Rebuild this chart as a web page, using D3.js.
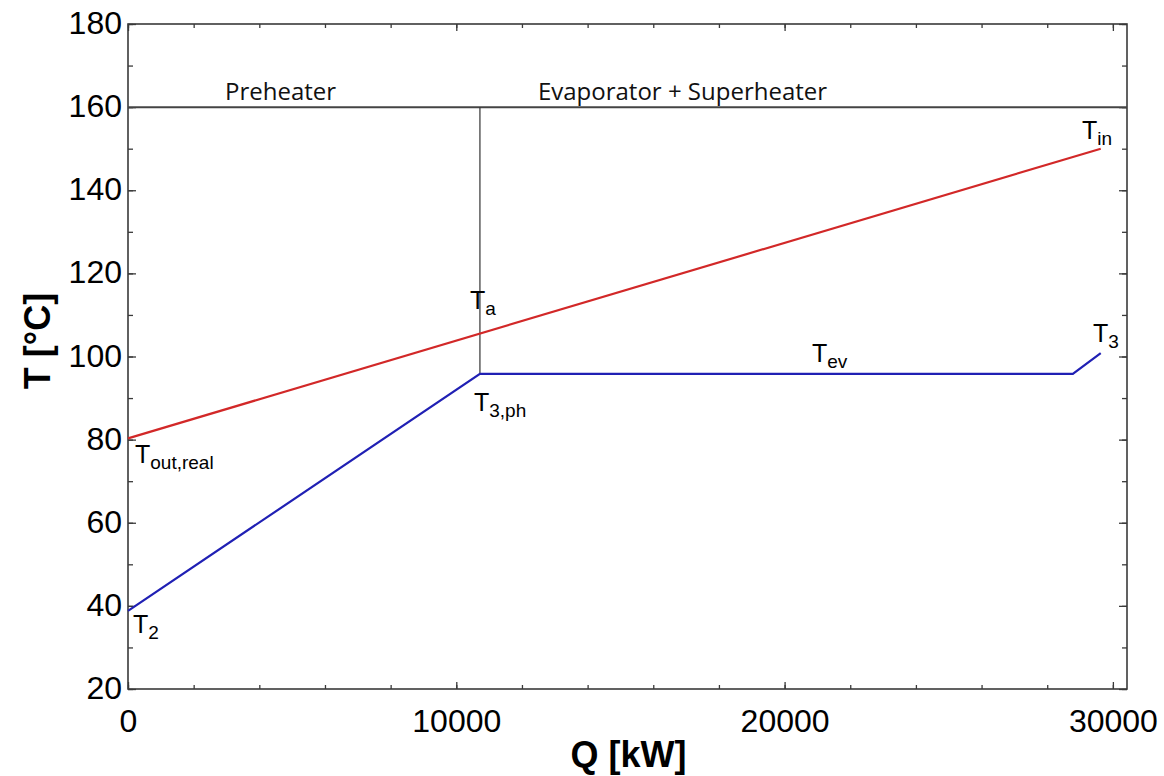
<!DOCTYPE html>
<html>
<head>
<meta charset="utf-8">
<script src="https://cdn.jsdelivr.net/npm/d3@7/dist/d3.min.js"></script>
<style>
  html, body { margin: 0; padding: 0; background: #fff; }
  svg { display: block; }
</style>
</head>
<body>
<svg id="chart" width="1164" height="776"></svg>
<script>
// ---- data ----
const qDomain = [0, 30430];
const tDomain = [20, 180];
const qMajorTicks = [0, 10000, 20000, 30000];
const qMinorTicks = d3.range(0, 30001, 2000);
const tMajorTicks = [20, 40, 60, 80, 100, 120, 140, 160, 180];
const tMinorTicks = d3.range(20, 181, 10);

// hot stream (red)
const hotQ = [0, 29630];
const hotT = [80.3, 150.0];
// working fluid (blue)
const coldQ = [0, 10720, 28780, 29630];
const coldT = [38.8, 95.8, 95.8, 100.8];

// divider lines
const limitT = 160;
const pinchQ = 10720;
const pinchT = 95.8;

// region labels
const regionNames = ["Preheater", "Evaporator + Superheater"];
const regionQ = [2954, 12487];
const regionT = [161.8, 161.8];

// point labels: main text, subscript, anchor (q, T)
const pointMain = ["T", "T", "T", "T", "T", "T", "T"];
const pointSub = ["in", "a", "3,ph", "ev", "3", "out,real", "2"];
const pointQ = [29056, 10416, 10538, 20833, 29391, 213, 152];
const pointT = [152.3, 111.4, 86.9, 98.7, 103.6, 74.4, 33.5];

const xTitle = "Q [kW]";
const yTitle = "T [°C]";

// ---- layout ----
const svg = d3.select("#chart");
const mLeft = 128, mRight = 1127, mTop = 24, mBottom = 689;
const x = d3.scaleLinear().domain(qDomain).range([mLeft, mRight]);
const y = d3.scaleLinear().domain(tDomain).range([mBottom, mTop]);
const axisColor = "#3a3a3a";
const tickFont = "'Liberation Sans', Arial, sans-serif";

function styleAxis(g) {
  g.select(".domain").remove();
  g.selectAll(".tick line").attr("stroke", axisColor).attr("stroke-width", 1.3);
  g.selectAll(".tick text").attr("fill", "#000").attr("font-family", tickFont).attr("font-size", 32);
}

// minor ticks
svg.append("g").attr("transform", `translate(0,${mBottom})`)
  .call(d3.axisBottom(x).tickValues(qMinorTicks).tickSize(-4).tickFormat(""))
  .call(styleAxis);
svg.append("g").attr("transform", `translate(0,${mTop})`)
  .call(d3.axisTop(x).tickValues(qMinorTicks).tickSize(-4).tickFormat(""))
  .call(styleAxis);
svg.append("g").attr("transform", `translate(${mLeft},0)`)
  .call(d3.axisLeft(y).tickValues(tMinorTicks).tickSize(-5).tickFormat(""))
  .call(styleAxis);
svg.append("g").attr("transform", `translate(${mRight},0)`)
  .call(d3.axisRight(y).tickValues(tMinorTicks).tickSize(-5).tickFormat(""))
  .call(styleAxis);

// major ticks with labels
svg.append("g").attr("transform", `translate(0,${mBottom})`)
  .call(d3.axisBottom(x).tickValues(qMajorTicks).tickSizeInner(-7).tickSizeOuter(0).tickPadding(20).tickFormat(d3.format("d")))
  .call(styleAxis);
svg.append("g").attr("transform", `translate(0,${mTop})`)
  .call(d3.axisTop(x).tickValues(qMajorTicks).tickSize(-7).tickFormat(""))
  .call(styleAxis);
svg.append("g").attr("transform", `translate(${mLeft},0)`)
  .call(d3.axisLeft(y).tickValues(tMajorTicks).tickSizeInner(-8).tickSizeOuter(0).tickPadding(6).tickFormat(d3.format("d")))
  .call(styleAxis)
  .call(g => g.selectAll(".tick text").attr("dy", "0.3em"));
svg.append("g").attr("transform", `translate(${mRight},0)`)
  .call(d3.axisRight(y).tickValues(tMajorTicks).tickSize(-8).tickFormat(""))
  .call(styleAxis);

// frame
svg.append("rect")
  .attr("x", mLeft).attr("y", mTop)
  .attr("width", mRight - mLeft).attr("height", mBottom - mTop)
  .attr("fill", "none").attr("stroke", axisColor).attr("stroke-width", 1.6);

// limit line at 160
svg.append("line")
  .attr("x1", x(qDomain[0])).attr("x2", x(qDomain[1]))
  .attr("y1", y(limitT)).attr("y2", y(limitT))
  .attr("stroke", "#444").attr("stroke-width", 2);

// pinch vertical
svg.append("line")
  .attr("x1", x(pinchQ)).attr("x2", x(pinchQ))
  .attr("y1", y(limitT)).attr("y2", y(pinchT))
  .attr("stroke", "#333").attr("stroke-width", 1.2);

const line = d3.line().x(d => x(d[0])).y(d => y(d[1]));

svg.append("path")
  .datum(hotQ.map((q, i) => [q, hotT[i]]))
  .attr("d", line).attr("fill", "none")
  .attr("stroke", "#d22828").attr("stroke-width", 2.2);

svg.append("path")
  .datum(coldQ.map((q, i) => [q, coldT[i]]))
  .attr("d", line).attr("fill", "none")
  .attr("stroke", "#2020b4").attr("stroke-width", 2.2);

// region labels
svg.selectAll(".region").data(regionNames).enter().append("text")
  .attr("x", (d, i) => x(regionQ[i]))
  .attr("y", (d, i) => y(regionT[i]))
  .attr("font-family", "'Open Sans', Lato, sans-serif")
  .attr("font-size", 24)
  .attr("fill", "#111")
  .text(d => d);

// point labels
const pl = svg.selectAll(".plabel").data(pointMain).enter().append("text")
  .attr("x", (d, i) => x(pointQ[i]))
  .attr("y", (d, i) => y(pointT[i]))
  .attr("font-family", tickFont)
  .attr("font-size", 25)
  .attr("fill", "#000");
pl.append("tspan").text(d => d);
pl.append("tspan").attr("dy", 6).attr("font-size", 19).text((d, i) => pointSub[i]);

// axis titles
svg.append("text")
  .attr("x", (mLeft + mRight) / 2 + 1).attr("y", 767)
  .attr("text-anchor", "middle")
  .attr("font-family", tickFont).attr("font-weight", "bold").attr("font-size", 36)
  .text(xTitle);
svg.append("text")
  .attr("transform", `translate(50,${341}) rotate(-90)`)
  .attr("text-anchor", "middle")
  .attr("font-family", tickFont).attr("font-weight", "bold").attr("font-size", 36)
  .text(yTitle);
</script>
</body>
</html>
